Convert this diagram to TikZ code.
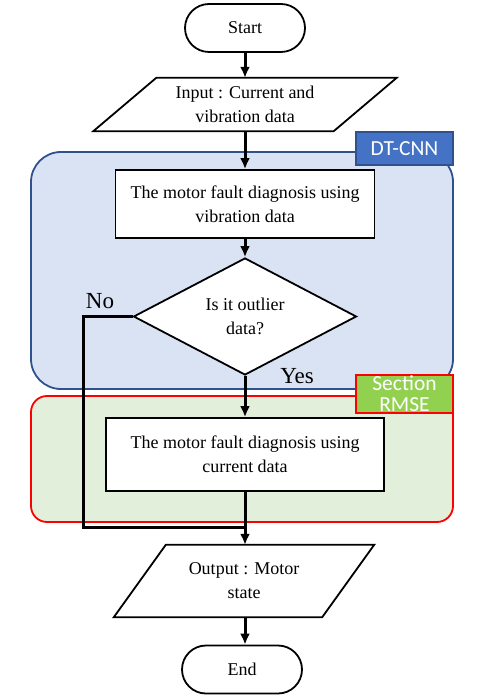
\documentclass[tikz,border=0pt]{standalone}
\usepackage{fontspec}
\setmainfont{Liberation Serif}
\newfontfamily\tagfont{Carlito}
\usetikzlibrary{arrows.meta,shapes.geometric}

\definecolor{cnnfill}{HTML}{DAE3F3}
\definecolor{cnnedge}{HTML}{2F528F}
\definecolor{cnntag}{HTML}{4472C4}
\definecolor{rmsefill}{HTML}{E2EFDA}
\definecolor{rmsetag}{HTML}{92D050}

\begin{document}
\begin{tikzpicture}[>={Latex[length=11pt,width=10pt]}, x=1pt, y=-1pt,
  every node/.style={font=\rmfamily\fontsize{18}{24}\selectfont, align=center},
  term/.style={draw, line width=1.8pt, rectangle, rounded corners=24pt, minimum width=120pt, minimum height=48pt},
  io/.style={rectangle, inner sep=0pt},
  proc/.style={draw, line width=1.8pt, rectangle, fill=white},
  test/.style={draw, line width=1.8pt, diamond, fill=white, inner sep=0pt, minimum width=223pt, minimum height=117pt},
  tag/.style={line width=1.8pt, text=white, inner sep=0pt, font=\tagfont\fontsize{21.5}{21}\selectfont},
  flow/.style={->, line width=3pt},
  yesno/.style={font=\rmfamily\fontsize{23}{24}\selectfont}]

\useasboundingbox (0,0) rectangle (478,700);

% regions
\draw[cnnedge, fill=cnnfill, line width=1.8pt, rounded corners=30pt] (31,152) rectangle (453,389);
\draw[red, fill=rmsefill, line width=1.8pt, rounded corners=16pt] (31,396) rectangle (453,522);
\node[tag, draw=cnnedge, fill=cnntag, minimum width=97pt, minimum height=33pt] (cnnlabel) at (404.5,148.5) {DT-CNN};
\node[tag, draw=red, fill=rmsetag, minimum width=97pt, minimum height=38pt] (rmselabel) at (404.5,394) {Section\\RMSE};

% blocks
\node[term] (start) at (245,28) {Start};
\node[io, minimum width=240pt, minimum height=53pt] (in) at (245,104.5) {Input : Current and\\vibration data};
\draw[line width=1.8pt] ([xshift=31.5pt]in.north west) -- ([xshift=31.5pt]in.north east)
  -- ([xshift=-31.5pt]in.south east) -- ([xshift=-31.5pt]in.south west) -- cycle;
\node[proc, minimum width=259pt, minimum height=68pt] (vib) at (245,204) {The motor fault diagnosis using\\vibration data};
\node[test] (q) at (245,316.5) {Is it outlier\\data?};
\node[proc, minimum width=278pt, minimum height=73pt] (cur) at (245,454.5) {The motor fault diagnosis using\\current data};
\node[io, minimum width=208pt, minimum height=72pt] (out) at (244,581) {Output : Motor\\state};
\draw[line width=1.8pt] ([xshift=26pt]out.north west) -- ([xshift=26pt]out.north east)
  -- ([xshift=-26pt]out.south east) -- ([xshift=-26pt]out.south west) -- cycle;
\node[term] (end) at (242,669.5) {End};

\node[yesno] (no) at (100,301) {No};
\node[yesno] (yes) at (297,376) {Yes};

\coordinate (join) at (245,527);

% connectors
\draw[flow] (start) -- (in);
\draw[flow] (in) -- (vib);
\draw[flow] (vib) -- (q);
\draw[flow] (q) -- (cur);
\draw[flow] (cur) -- (out.north -| cur.south);
\draw[flow] (out.south -| start) -- (end.north -| start);
\draw[line width=3pt] (q.west) -- ++(-49,0) |- (join);

\end{tikzpicture}
\end{document}
